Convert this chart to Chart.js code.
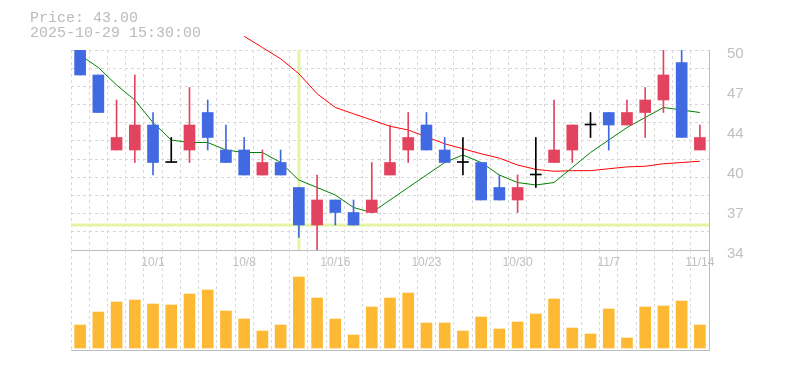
<!DOCTYPE html>
<html>
<head>
<meta charset="utf-8">
<title>Price chart</title>
<script src="https://cdn.jsdelivr.net/npm/chart.js@4.4.1/dist/chart.umd.min.js"></script>
<style>
  html, body { margin: 0; padding: 0; background: #fff; }
  #wrap { position: relative; width: 785px; height: 370px; overflow: hidden; }
  #wrap canvas { position: absolute; left: 0; }
  #price { top: 0; }
  #volume { top: 250px; }
  #info {
    position: absolute; left: 30px; top: 11px;
    font: 15px/15px "Liberation Mono", monospace; color: #bbb;
    white-space: pre;
  }
</style>
</head>
<body>
<div id="wrap">
  <canvas id="price" width="785" height="275"></canvas>
  <canvas id="volume" width="785" height="120"></canvas>
  <div id="info">Price: 43.00
2025-10-29 15:30:00</div>
</div>
<script>
/* Daily candles with 5/25 day averages and volume. */
(function () {
  "use strict";

  var DATES = ["9/25", "9/26", "9/29", "9/30", "10/1", "10/2", "10/3", "10/6", "10/7", "10/8",
    "10/9", "10/10", "10/14", "10/15", "10/16", "10/17", "10/20", "10/21", "10/22", "10/23",
    "10/24", "10/27", "10/28", "10/29", "10/30", "10/31", "11/4", "11/5", "11/6", "11/7",
    "11/10", "11/11", "11/12", "11/13", "11/14"];
  var TICK_DATES = ["10/1", "10/8", "10/16", "10/23", "10/30", "11/7", "11/14"];

  var OPEN  = [50, 48, 42, 42, 44, 41, 42, 45, 42, 42, 40, 41, 39, 36, 38, 37, 37, 40, 42, 44,
    42, 41, 41, 39, 38, 40, 41, 42, 44, 45, 44, 45, 46, 49, 42];
  var HIGH  = [50, 48, 46, 48, 45, 43, 47, 46, 44, 43, 42, 42, 39, 40, 38, 38, 41, 44, 45, 45,
    43, 43, 41, 40, 40, 43, 46, 44, 45, 45, 46, 47, 50, 50, 44];
  var LOW   = [48, 45, 42, 41, 40, 41, 41, 42, 41, 40, 40, 40, 35, 34, 36, 36, 37, 40, 41, 42,
    41, 40, 38, 38, 37, 39, 41, 41, 43, 42, 44, 43, 45, 43, 42];
  var CLOSE = [48, 45, 43, 44, 41, 41, 44, 43, 41, 40, 41, 40, 36, 38, 37, 36, 38, 41, 43, 42,
    41, 41, 38, 38, 39, 40, 42, 44, 44, 44, 45, 46, 48, 43, 43];
  var VOLUME = [23000, 36000, 46000, 48000, 44000, 43000, 54000, 58000, 37000, 29000,
    17000, 23000, 71000, 50000, 29000, 13000, 41000, 50000, 55000, 25000,
    25000, 17000, 31000, 19000, 26000, 34000, 49000, 20000, 14000, 39000,
    10000, 41000, 42000, 47000, 23000];

  var MA5 = [49.6, 48.6, 47.2, 46.0, 44.2, 42.8, 42.6, 42.6, 42.0, 41.8, 41.8, 41.0, 39.6, 39.0,
    38.4, 37.4, 37.0, 38.0, 39.0, 40.0, 41.0, 41.6, 41.0, 40.0, 39.4, 39.2, 39.4, 40.6, 41.8,
    42.8, 43.8, 44.6, 45.4, 45.2, 45.0];
  var MA25 = [null, null, null, null, null, null, null, null, null, 51.1, 50.2, 49.3, 48.1, 46.5,
    45.4, 44.9, 44.4, 43.9, 43.6, 43.05, 42.5, 42.1, 41.7, 41.35, 40.8, 40.45, 40.3, 40.35,
    40.35, 40.5, 40.65, 40.7, 40.9, 41.0, 41.1];

  var PRICE_TICKS = [34, 37.2, 40.4, 43.6, 46.8, 50];
  var PRICE_TICK_LABELS = ["34", "37", "40", "44", "47", "50"];

  // crosshair left on the chart in the screenshot
  var CROSS_INDEX = 12, CROSS_PRICE = 36;

  var UP = "#E2435F", DOWN = "#4169E1", FLAT = "#000000", VOL = "#FDB934";
  var GRID = "#d8d8d8", AXIS = "#bdbdbd", TEXT = "#c0c0c0", CROSS = "#e3f5a2";
  var FONT = "'Liberation Sans', Arial, sans-serif";

  Chart.defaults.font.family = FONT;

  var candleColor = OPEN.map(function (o, i) {
    return CLOSE[i] > o ? UP : (CLOSE[i] < o ? DOWN : FLAT);
  });
  var bodies = OPEN.map(function (o, i) { return [o, CLOSE[i]]; });
  var wicks = LOW.map(function (l, i) { return [l, HIGH[i]]; });

  /* ---------- Crosshair (drawn under the candles) ---------- */
  var crosshair = {
    id: "crosshair",
    beforeDatasetsDraw: function (chart) {
      var a = chart.chartArea, ctx = chart.ctx;
      var px = chart.scales.x.getPixelForValue(CROSS_INDEX);
      var py = chart.scales.y.getPixelForValue(CROSS_PRICE);
      ctx.save();
      ctx.strokeStyle = CROSS;
      ctx.lineWidth = 3;
      ctx.beginPath();
      ctx.moveTo(px, a.top); ctx.lineTo(px, a.bottom);
      ctx.moveTo(a.left, py); ctx.lineTo(a.right, py);
      ctx.stroke();
      ctx.restore();
    }
  };

  /* ---------- Price panel ---------- */
  new Chart(document.getElementById("price"), {
    type: "bar",
    data: {
      labels: DATES,
      datasets: [
        { label: "body", data: bodies, backgroundColor: candleColor, barThickness: 11,
          grouped: false, minBarLength: 1, order: 1, yAxisID: "y" },
        { label: "wick", data: wicks, backgroundColor: candleColor, barThickness: 1,
          grouped: false, order: 2, yAxisID: "y" },
        { type: "line", label: "MA5", data: MA5, borderColor: "#008000", borderWidth: 1,
          pointRadius: 0, tension: 0, order: 5, yAxisID: "y" },
        { type: "line", label: "MA25", data: MA25, borderColor: "#ff0000", borderWidth: 1,
          pointRadius: 0, tension: 0, order: 6, clip: false, spanGaps: false, yAxisID: "y" }
      ]
    },
    options: {
      responsive: false, animation: false, devicePixelRatio: 1, events: [],
      layout: { padding: { left: 71, top: 50, right: 0, bottom: 0 } },
      plugins: { legend: { display: false }, tooltip: { enabled: false } },
      scales: {
        x: {
          offset: true,
          grid: { offset: true, color: GRID, drawTicks: false },
          border: { color: AXIS, dash: [3, 3] },
          ticks: {
            autoSkip: false, maxRotation: 0, padding: 5, color: TEXT, font: { size: 12 },
            callback: function (v, i) { return TICK_DATES.indexOf(DATES[i]) >= 0 ? DATES[i] : ""; }
          },
          afterFit: function (s) { s.height = 25; }
        },
        yg: {
          position: "left", min: 34, max: 50,
          ticks: { display: false, count: 12 },
          grid: { color: GRID, drawTicks: false },
          border: { display: false, dash: [3, 3] },
          afterFit: function (s) { s.width = 0; }
        },
        y: {
          position: "right", min: 34, max: 50,
          grid: { display: false },
          border: { color: AXIS },
          afterBuildTicks: function (s) {
            s.ticks = PRICE_TICKS.map(function (v) { return { value: v }; });
          },
          ticks: {
            padding: 10, labelOffset: 4, color: TEXT, font: { size: 15 },
            callback: function (v, i) { return PRICE_TICK_LABELS[i]; }
          },
          afterFit: function (s) { s.width = 76; }
        }
      }
    },
    plugins: [crosshair]
  });

  /* ---------- Volume panel ---------- */
  new Chart(document.getElementById("volume"), {
    type: "bar",
    data: {
      labels: DATES,
      datasets: [{ label: "Volume", data: VOLUME, backgroundColor: VOL, barThickness: 11 }]
    },
    options: {
      responsive: false, animation: false, devicePixelRatio: 1, events: [],
      layout: { padding: { left: 71, top: 0, right: 0, bottom: 0 } },
      plugins: { legend: { display: false }, tooltip: { enabled: false } },
      scales: {
        x: {
          offset: true,
          grid: { offset: true, color: GRID, drawTicks: false },
          border: { color: AXIS, dash: [3, 3] },
          ticks: { display: false },
          afterFit: function (s) { s.height = 20; }
        },
        y: {
          position: "right", min: -2000, max: 98000,
          grid: { display: false },
          border: { color: AXIS },
          ticks: { display: false },
          afterFit: function (s) { s.width = 76; }
        }
      }
    }
  });
})();
</script>
</body>
</html>
